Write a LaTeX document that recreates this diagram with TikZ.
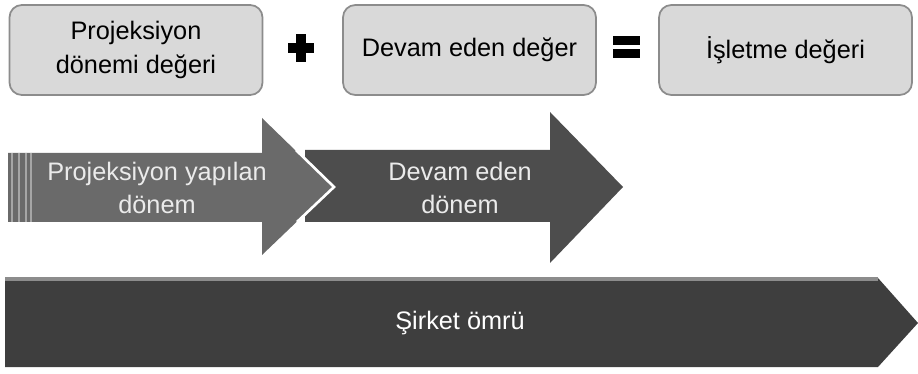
\documentclass[tikz,border=0pt]{standalone}
\usepackage{fontspec}
\setmainfont{Liberation Sans}
\definecolor{boxgray}{HTML}{D9D9D9}
\definecolor{boxline}{HTML}{8C8C8C}
\definecolor{arrowlight}{HTML}{6A6A6A}
\definecolor{arrowmid}{HTML}{4D4D4D}
\definecolor{arrowdark}{HTML}{3E3E3E}
\begin{document}
\begin{tikzpicture}[x=0.02cm, y=-0.02cm,
        valbox/.style={draw=boxline, fill=boxgray, line width=1pt, rounded corners=7pt,
                minimum width=5.06cm, minimum height=1.8cm, align=center,
                font=\fontsize{14.4}{19}\selectfont},
        arrowtext/.style={align=center, text=black!8, font=\fontsize{14.4}{19}\selectfont}]
        \useasboundingbox (0,0) rectangle (918,374);
        \pgfmathsetmacro{\armlen}{13}
        % value boxes
        \node[valbox] (projval) at (136,50) {Projeksiyon\\dönemi değeri};
        \node[valbox] (contval) at (469.5,50) {Devam eden değer};
        \node[valbox] (bizval) at (785.5,50) {İşletme değeri};
        \fill (301-\armlen,43) rectangle (301+\armlen,53);
        \fill (296,48-\armlen-1) rectangle (306,48+\armlen+1);
        \fill (613,36) rectangle (640,45);
        \fill (613,49) rectangle (640,58);
        % periods
        \fill[arrowdark] (5,278) -- (878,278) -- (918,323) -- (878,367) -- (5,367) -- cycle;
        \draw[black!45, line width=2pt] (5,279) -- (878,279);
        \fill[arrowmid] (305,150) -- (550,150) -- (550,112) -- (623,187) -- (550,263) -- (550,222) -- (305,222) -- cycle;
        \fill[arrowlight] (8,153) -- (262,153) -- (262,118) -- (333,187) -- (262,255) -- (262,222) -- (8,222) -- cycle;
        \draw[white, line width=1.5pt] (296,150) -- (334,187) -- (297,222);
        \foreach \x in {12, 19, 26, 31}{
                \draw[black!35, line width=1pt] (\x,153) -- (\x,222);
            }
        \node[arrowtext] (projper) at (157,188) {Projeksiyon yapılan\\dönem};
        \node[arrowtext] (contper) at (460,188) {Devam eden\\dönem};
        \node[arrowtext, text=white] (life) at (460,323) {Şirket ömrü};
    \end{tikzpicture}
\end{document}
